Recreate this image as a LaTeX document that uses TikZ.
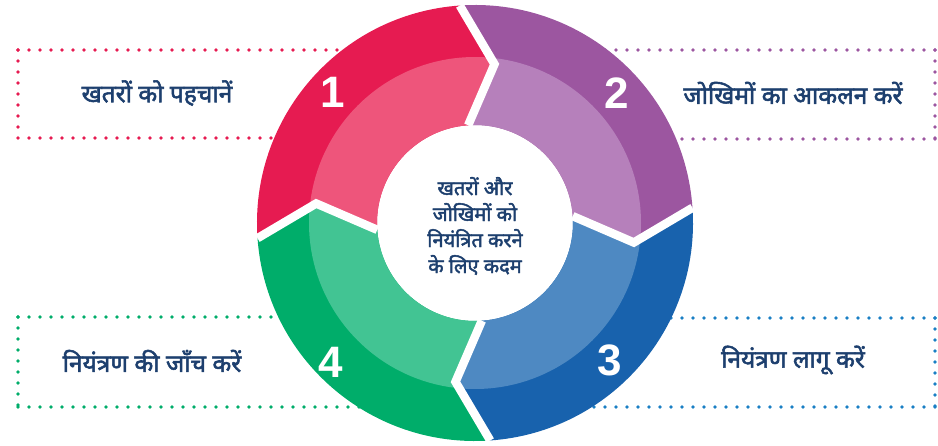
\documentclass[tikz,border=0pt]{standalone}
\usepackage{fontspec}
\newfontfamily\deva[Script=Devanagari, AutoFakeBold=2.2]{Noto Sans}
\newfontfamily\numfont{Liberation Sans}
\definecolor{redD}{HTML}{E61B51}
\definecolor{redL}{HTML}{EE557B}
\definecolor{purD}{HTML}{9C56A0}
\definecolor{purL}{HTML}{B680BB}
\definecolor{bluD}{HTML}{1862AD}
\definecolor{bluL}{HTML}{4E89C2}
\definecolor{grnD}{HTML}{00AD6A}
\definecolor{grnL}{HTML}{42C493}
\definecolor{navy}{HTML}{1D3F6E}
\definecolor{dotB}{HTML}{1A7FC4}
\tikzset{
  dotline/.style={line width=3.8pt, line cap=round, dash pattern=on 0pt off 11pt},
  lbl/.style={font=\deva\bfseries\fontsize{24.5}{28}\selectfont, text=navy, inner sep=0pt},
  numlbl/.style={font=\numfont\bfseries\fontsize{44}{44}\selectfont, text=white, inner sep=0pt},
  gapline/.style={white, line width=8.5pt, line join=miter, line cap=square}
}
\begin{document}
\begin{tikzpicture}[x=1pt,y=1pt]
\useasboundingbox (0,0) rectangle (938,445);
% dotted boxes (behind the ring)
\coordinate (b1a) at (18,395); \coordinate (b1b) at (18,307);
\draw[dotline, redD] (b1a) -- (420,395);
\draw[dotline, redD] (b1a) -- (b1b);
\draw[dotline, redD] (b1b) -- (420,307);
\coordinate (b2a) at (935,395); \coordinate (b2b) at (935,306);
\draw[dotline, purD] (b2a) -- (530,395);
\draw[dotline, purD] (b2a) -- (b2b);
\draw[dotline, purD] (b2b) -- (530,306);
\coordinate (b4a) at (18,128); \coordinate (b4b) at (18,38);
\draw[dotline, grnD] (b4a) -- (420,128);
\draw[dotline, grnD] (b4a) -- (b4b);
\draw[dotline, grnD] (b4b) -- (420,38);
\coordinate (b3a) at (935,127); \coordinate (b3b) at (935,38);
\draw[dotline, dotB] (b3a) -- (530,127);
\draw[dotline, dotB] (b3a) -- (b3b);
\draw[dotline, dotB] (b3b) -- (530,38);
% ring
\begin{scope}[shift={(475,222)}]
\foreach \t/\dk/\lt in {180/redD/redL, 90/purD/purL, 0/bluD/bluL, -90/grnD/grnL}{
  \pgfmathsetmacro\a{\t+4}
  \pgfmathsetmacro\b{\t-86}
  \pgfmathsetmacro\c{\t-97}
  \pgfmathsetmacro\d{\t-7}
  \begin{scope}
    \clip (\a:218) arc[start angle=\a, end angle=\b, radius=218] -- (\c:160) -- (\b:98)
          arc[start angle=\b, end angle=\a, radius=98] -- (\d:160) -- cycle;
    \fill[\dk] (0,0) circle[radius=230];
    \fill[\lt] (0,0) circle[radius=166];
  \end{scope}
}
\foreach \t in {180,90,0,-90}{
  \pgfmathsetmacro\a{\t+4}
  \pgfmathsetmacro\d{\t-7}
  \draw[gapline] (\a:218) -- (\d:160) -- (\a:98);
}
\end{scope}
% numbers
\node[numlbl] (n1) at (333,353) {1};
\node[numlbl] (n2) at (617,352) {2};
\node[numlbl] (n3) at (610,85) {3};
\node[numlbl] (n4) at (331,83) {4};
% labels
\node[lbl] (t1) at (157,352) {खतरों को पहचानें};
\node[lbl] (t2) at (793,352) {जोखिमों का आकलन करें};
\node[lbl] (t3) at (793,85) {नियंत्रण लागू करें};
\node[lbl] (t4) at (152,84) {नियंत्रण की जाँच करें};
\node[lbl, align=center, font=\deva\bfseries\fontsize{20}{26}\selectfont] (c) at (475,219)
  {खतरों और\\जोखिमों को\\नियंत्रित करने\\के लिए कदम};
\end{tikzpicture}
\end{document}
